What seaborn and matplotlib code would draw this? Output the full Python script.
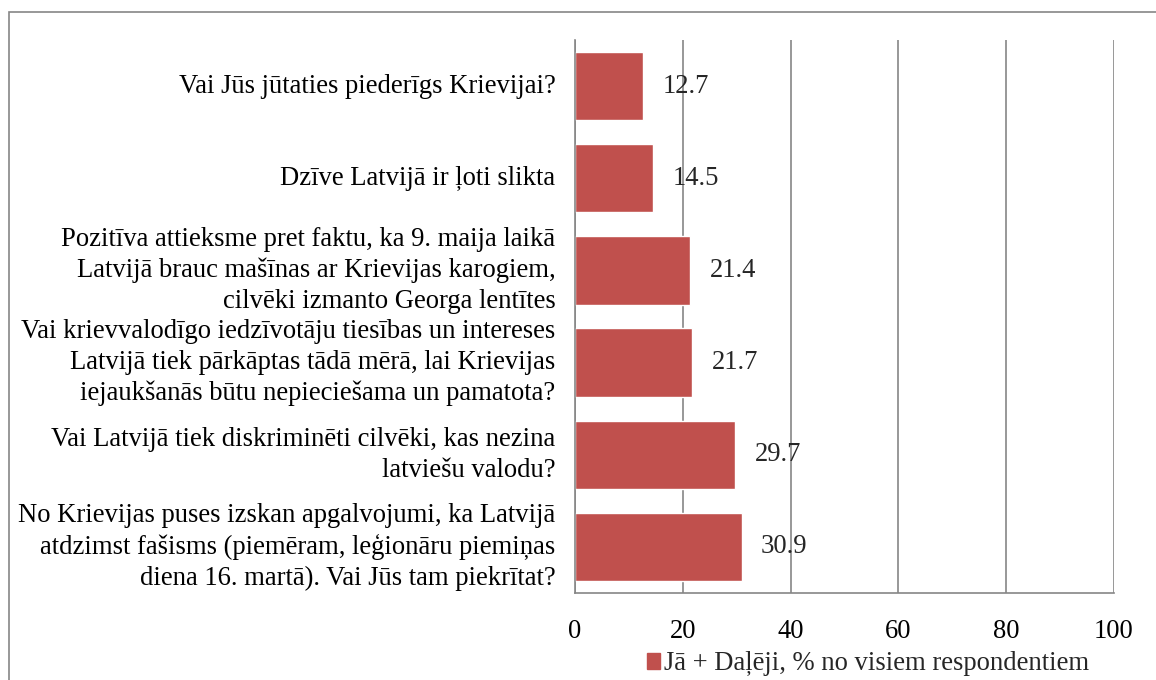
import matplotlib
matplotlib.use("Agg")
import matplotlib.pyplot as plt
import seaborn as sns
import pandas as pd
from matplotlib.patches import Patch, Rectangle

categories = [
    "Vai Jūs jūtaties piederīgs Krievijai?",
    "Dzīve Latvijā ir ļoti slikta",
    "Pozitīva attieksme pret faktu, ka 9. maija laikā\nLatvijā brauc mašīnas ar Krievijas karogiem,\ncilvēki izmanto Georga lentītes",
    "Vai krievvalodīgo iedzīvotāju tiesības un intereses\nLatvijā tiek pārkāptas tādā mērā, lai Krievijas\niejaukšanās būtu nepieciešama un pamatota?",
    "Vai Latvijā tiek diskriminēti cilvēki, kas nezina\nlatviešu valodu?",
    "No Krievijas puses izskan apgalvojumi, ka Latvijā\natdzimst fašisms (piemēram, leģionāru piemiņas\ndiena 16. martā). Vai Jūs tam piekrītat?",
]
values = [12.7, 14.5, 21.4, 21.7, 29.7, 30.9]
series_name = "Jā + Daļēji, % no visiem respondentiem"
xticks = [0, 20, 40, 60, 80, 100]

sns.set_theme(style="white")
plt.rcParams["font.family"] = ["Liberation Serif", "DejaVu Serif"]
FS = 19.2

df = pd.DataFrame({"cat": categories, "val": values})

fig = plt.figure(figsize=(11.56, 6.8), dpi=100)
ax = fig.add_axes([575/1156, 1-593/680, (1114-575)/1156, (593-40)/680])
color = "#C0504D"
sns.barplot(data=df, y="cat", x="val", orient="h", color=color, width=0.74,
            saturation=1, ax=ax, order=categories)
ax.set_xlim(0, 100)
ax.set_xticks(xticks)
ax.set_xticklabels([str(t) for t in xticks])
ax.set_xlabel("")
ax.set_ylabel("")
ax.grid(False)
for t in xticks:
    ax.axvline(t, color="#868686", lw=1.2, zorder=0)
for s in ["top", "right"]:
    ax.spines[s].set_visible(False)
for s in ["left", "bottom"]:
    ax.spines[s].set_color("#868686")
    ax.spines[s].set_linewidth(1.2)
ax.tick_params(axis="x", length=0, pad=19, labelsize=FS, colors="black")
ax.tick_params(axis="y", length=0, pad=14, labelsize=FS, colors="black")
ax.set_yticks(range(len(categories)))
ax.set_yticklabels(categories, linespacing=1.3, va="center", ma="right", fontsize=FS)
for c in ax.containers:
    ax.bar_label(c, labels=[f"{v:.1f}" for v in values], padding=14, fontsize=FS)

handles = [Patch(facecolor=color, edgecolor=color)]
fig.legend(handles, [series_name], loc="center", bbox_to_anchor=(868/1156, 1-664/680),
           frameon=False, fontsize=FS, handlelength=0.5, handleheight=0.5,
           handletextpad=0.15, borderaxespad=0, borderpad=0)

fig.patches.append(Rectangle((9/1156, -0.1), 1.2, 1-12/680+0.1, fill=False,
                             edgecolor="#868686", lw=1.2, transform=fig.transFigure,
                             figure=fig))
fig.savefig("out.png", dpi=100)
